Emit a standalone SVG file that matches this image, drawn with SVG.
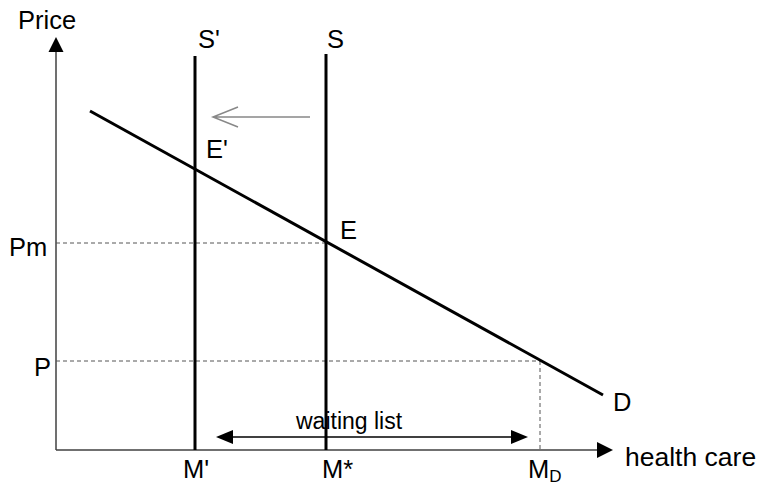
<svg xmlns="http://www.w3.org/2000/svg" width="759" height="485" viewBox="0 0 759 485">
<style>
text{font-family:"Liberation Sans",Arial,sans-serif;font-size:25.5px;fill:#000}
.ax{stroke:#404040;stroke-width:1.5;fill:none}
.dash{stroke:#555;stroke-width:1;stroke-dasharray:4,3;fill:none}
.thick{stroke:#000;stroke-width:3;fill:none}
</style>
<g id="connectors">
<line class="ax" x1="56" y1="450" x2="56" y2="52"/>
<path d="M56,37 L48.5,52 L63.5,52 Z" fill="#000"/>
<line class="ax" x1="56" y1="450" x2="598" y2="450"/>
<path d="M613,450 L597,442 L597,458 Z" fill="#000"/>
<line class="dash" x1="56" y1="243" x2="326" y2="243"/>
<line class="dash" x1="56" y1="361" x2="540" y2="361"/>
<line class="dash" x1="540" y1="361" x2="540" y2="450"/>
<line class="thick" x1="195" y1="56" x2="195" y2="450"/>
<line class="thick" x1="326" y1="54" x2="326" y2="450"/>
<line class="thick" x1="90" y1="111" x2="603" y2="395"/>
<path d="M310,117 L213,117 M238,107 L213,117 L238,127" stroke="#888" stroke-width="1.5" fill="none"/>
<line x1="230" y1="437" x2="514" y2="437" stroke="#000" stroke-width="1.5"/>
<path d="M216,437 L233,430 L233,444 Z" fill="#000"/>
<path d="M528,437 L511,430 L511,444 Z" fill="#000"/>
</g>
<g id="labels">
<text x="18" y="29">Price</text>
<text x="198" y="48">S'</text>
<text x="327" y="48">S</text>
<text x="206" y="158">E'</text>
<text x="340" y="239">E</text>
<text x="9" y="256">Pm</text>
<text x="34" y="376">P</text>
<text x="613" y="411">D</text>
<text x="296" y="429" style="font-size:23px">waiting list</text>
<text x="183" y="478">M'</text>
<text x="322" y="478">M*</text>
<text x="528" y="478">M<tspan style="font-size:17px" dy="4">D</tspan></text>
<text x="625" y="466" style="font-size:26.5px">health care</text>
</g>
</svg>
